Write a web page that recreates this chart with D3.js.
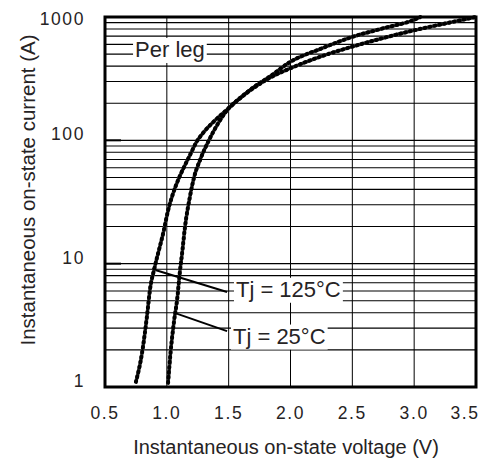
<!DOCTYPE html>
<html>
<head>
<meta charset="utf-8">
<script src="https://cdn.jsdelivr.net/npm/d3@7"></script>
<style>
    body { margin: 0; background: #fff; }
    text { font-family: "Liberation Sans", Arial, sans-serif; fill: #262324; }
</style>
</head>
<body>
<svg id="vf-chart"></svg>
<script>
// forward voltage (V) vs current (A)
const volts125 = [0.75, 0.80, 0.84, 0.865, 0.90, 0.975, 1.01, 1.05, 1.10, 1.14, 1.19, 1.24, 1.30, 1.38, 1.50, 1.59, 1.70, 1.83, 2.00, 2.25, 2.50, 2.75, 3.00, 3.25, 3.50];
const amps125  = [1.1, 1.9, 3.8, 6.3, 9.2, 18.5, 27, 37, 50, 61, 77, 97, 117, 142, 182, 219, 265, 320, 384, 480, 575, 675, 780, 885, 1000];

const volts25 = [1.01, 1.03, 1.058, 1.085, 1.105, 1.125, 1.147, 1.187, 1.222, 1.268, 1.34, 1.42, 1.50, 1.59, 1.70, 1.83, 2.00, 2.25, 2.50, 2.75, 3.00, 3.05];
const amps25  = [1.08, 1.9, 3.4, 5.3, 8.5, 12.5, 19.9, 35, 51, 69, 100, 140, 182, 219, 269, 328, 434, 555, 690, 810, 950, 1000];

const xTicks = [0.5, 1.0, 1.5, 2.0, 2.5, 3.0, 3.5];
const yTicks = [1, 10, 100, 1000];

// label text, curve point the leader starts from, leader end (V, A)
const labels = ["Tj = 125°C", "Tj = 25°C"];
const leaderFrom = [[0.88, 9.06], [1.074, 3.95]];
const leaderTo = [[1.487, 5.89], [1.487, 2.84]];
const labelAt = [[1.559, 5.39], [1.535, 2.25]];

function plotForwardCurves() {
    const width = 491;
    const height = 458;
    const left = 105, right = 476, top = 17, bottom = 387;

    const xScale = d3.scaleLinear()
        .domain([0.5, 3.5])
        .range([left, right]);

    const yScale = d3.scaleLog()
        .domain([1, 1000])
        .range([bottom, top]);

    const svg = d3.select("#vf-chart")
        .attr("width", width)
        .attr("height", height);

    // horizontal grid: 2..9 in each decade
    const minor = [];
    [1, 10, 100].forEach(dec => {
        for (let k = 2; k <= 9; k++) minor.push(dec * k);
    });
    svg.append("g")
        .selectAll("line")
        .data(minor.concat([10, 100]))
        .enter()
        .append("line")
            .attr("x1", left)
            .attr("x2", right)
            .attr("y1", d => yScale(d))
            .attr("y2", d => yScale(d))
            .attr("stroke", "#000")
            .attr("stroke-width", 1.1);

    // vertical grid
    svg.append("g")
        .selectAll("line")
        .data(xTicks.slice(1, -1))
        .enter()
        .append("line")
            .attr("x1", d => xScale(d))
            .attr("x2", d => xScale(d))
            .attr("y1", top)
            .attr("y2", bottom)
            .attr("stroke", "#000")
            .attr("stroke-width", 1);

    // short heavy marks on the decades
    svg.append("g")
        .selectAll("line")
        .data([10, 100])
        .enter()
        .append("line")
            .attr("x1", left)
            .attr("x2", left + 16)
            .attr("y1", d => yScale(d))
            .attr("y2", d => yScale(d))
            .attr("stroke", "#000")
            .attr("stroke-width", 2);

    // boxed labels, white background hides the grid behind them
    function boxedText(x, y, str) {
        const t = svg.append("text")
            .attr("x", x)
            .attr("y", y)
            .style("font-size", "22px")
            .text(str);
        const bb = t.node().getBBox();
        svg.insert("rect", "text")
            .attr("x", bb.x - 2)
            .attr("y", bb.y + 1)
            .attr("width", bb.width + 4)
            .attr("height", bb.height)
            .attr("fill", "#fff");
    }

    boxedText(xScale(0.743), yScale(474), "Per leg");
    labels.forEach((s, i) => boxedText(xScale(labelAt[i][0]), yScale(labelAt[i][1]), s));

    // leader lines
    svg.append("g")
        .selectAll("line")
        .data(labels.map((s, i) => [leaderFrom[i], leaderTo[i]]))
        .enter()
        .append("line")
            .attr("x1", d => xScale(d[0][0]))
            .attr("y1", d => yScale(d[0][1]))
            .attr("x2", d => xScale(d[1][0]))
            .attr("y2", d => yScale(d[1][1]))
            .attr("stroke", "#000")
            .attr("stroke-width", 2);

    // the two curves
    const line = d3.line()
        .x(d => xScale(d[0]))
        .y(d => yScale(d[1]))
        .curve(d3.curveMonotoneX);

    const curves = [d3.zip(volts125, amps125), d3.zip(volts25, amps25)];

    svg.append("g")
        .selectAll("path")
        .data(curves)
        .enter()
        .append("path")
            .attr("d", line)
            .attr("fill", "none")
            .attr("stroke", "#4a4a4a")
            .attr("stroke-width", 3.5);

    svg.append("g")
        .selectAll("path")
        .data(curves)
        .enter()
        .append("path")
            .attr("d", line)
            .attr("fill", "none")
            .attr("stroke", "#000")
            .attr("stroke-width", 4)
            .attr("stroke-linecap", "round")
            .attr("stroke-dasharray", "1 4");

    // frame
    svg.append("rect")
        .attr("x", left)
        .attr("y", top)
        .attr("width", right - left)
        .attr("height", bottom - top)
        .attr("fill", "none")
        .attr("stroke", "#000")
        .attr("stroke-width", 3);

    // tick labels
    svg.append("g")
        .selectAll("text")
        .data(xTicks)
        .enter()
        .append("text")
            .attr("x", (d, i) => i === xTicks.length - 1 ? xScale(d) - 11 : xScale(d))
            .attr("y", 419)
            .style("text-anchor", "middle")
            .style("font-size", "17.5px")
            .style("letter-spacing", "1.6px")
            .text(d => d.toFixed(1));

    svg.append("g")
        .selectAll("text")
        .data(yTicks)
        .enter()
        .append("text")
            .attr("x", 85)
            .attr("y", d => Math.max(yScale(d), 25))
            .style("text-anchor", "end")
            .style("font-size", "17.5px")
            .style("letter-spacing", "1.6px")
            .text(d => d);

    // x-axis label
    svg.append("text")
        .attr("x", 286)
        .attr("y", 454)
        .style("text-anchor", "middle")
        .style("font-size", "20px")
        .text("Instantaneous on-state voltage (V)");

    // y-axis label
    svg.append("text")
        .attr("transform", "rotate(-90)")
        .attr("x", -190)
        .attr("y", 35)
        .style("text-anchor", "middle")
        .style("font-size", "20.5px")
        .text("Instantaneous on-state current (A)");
}

plotForwardCurves();
</script>
</body>
</html>
